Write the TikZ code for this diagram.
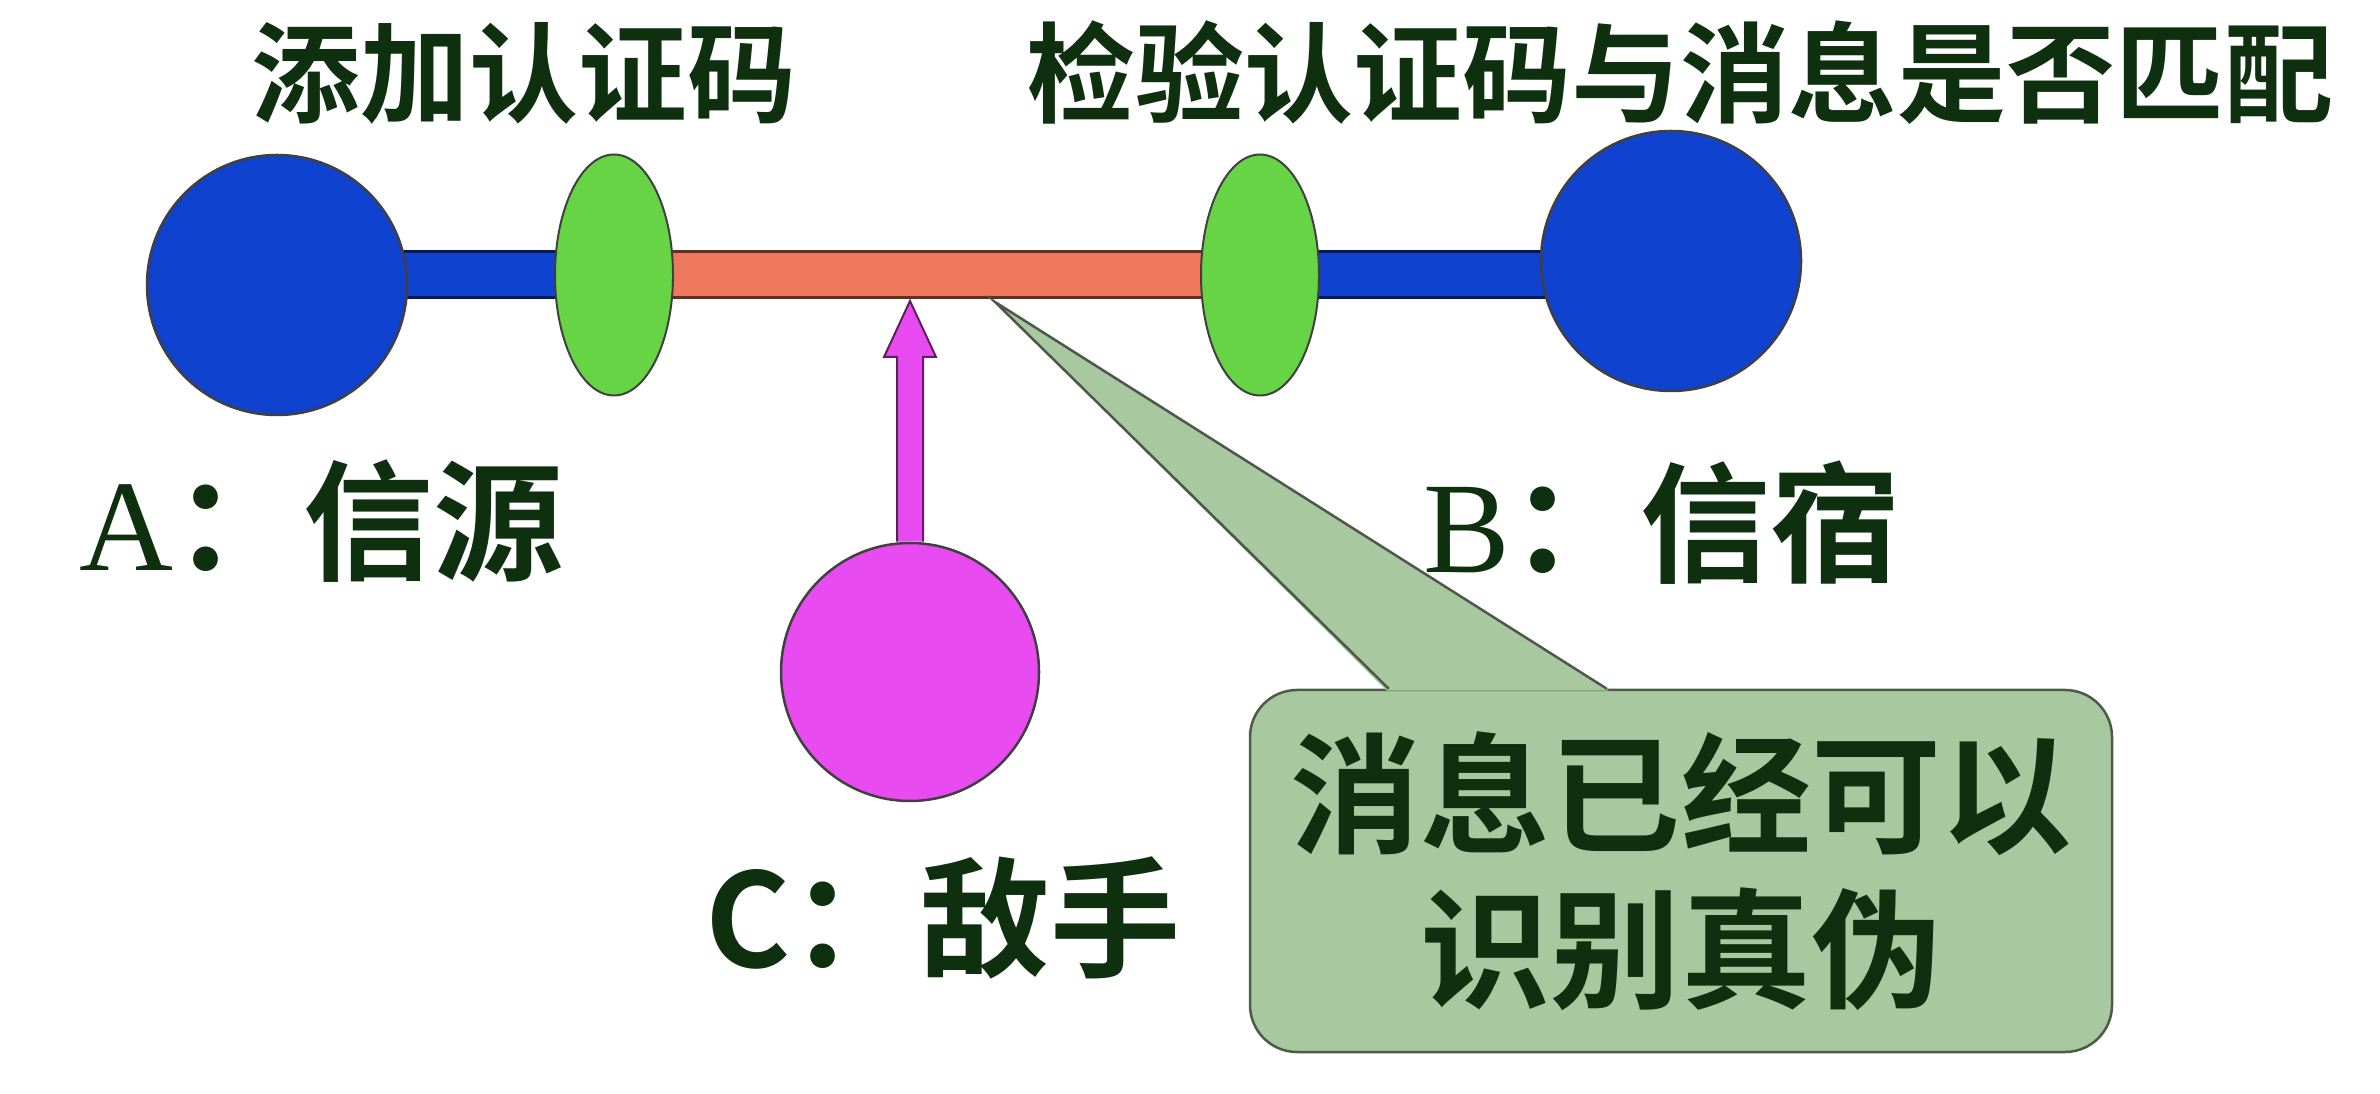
\documentclass[tikz,border=0pt]{standalone}
\usepackage{fontspec}
\newfontfamily\cjk{Noto Sans CJK SC}[BoldFont={Noto Sans CJK SC Bold}]
\newfontfamily\lat{Liberation Serif}
\usetikzlibrary{shapes.geometric,calc,backgrounds}
\definecolor{partyblue}{RGB}{16,66,208}
\definecolor{macgreen}{RGB}{102,212,68}
\definecolor{chanred}{RGB}{238,120,92}
\definecolor{advpink}{RGB}{232,76,240}
\definecolor{notegreen}{RGB}{168,200,160}
\definecolor{inkgreen}{RGB}{14,48,14}
\tikzset{
	party/.style 2 args={circle,draw=black!75,line width=0.25mm,fill=#1,minimum size=#2,inner sep=0pt},
	mac/.style={ellipse,draw=black!75,line width=0.2mm,fill=macgreen,minimum width=11.8mm,minimum height=24.1mm,inner sep=0pt},
	bar/.style={line width=0.3mm,draw=#1!40!black,double=#1,double distance=4.3mm},
	lbl/.style={text=inkgreen,inner sep=0pt,font=\cjk\bfseries\fontsize{#1}{#1}\selectfont},
	advarrow/.style={draw=advpink!40!black,line width=0.2mm,fill=advpink,line join=miter},
	note/.style={rectangle,rounded corners=4.7mm,draw=notegreen!45!black,line width=0.25mm,fill=notegreen,minimum width=86.2mm,minimum height=36.2mm,align=center,text=inkgreen,font=\cjk\bfseries\fontsize{37}{44}\selectfont}
}
\begin{document}
\begin{tikzpicture}[x=0.1mm,y=-0.1mm]
	\useasboundingbox (0,0) rectangle (2380,1094);
	\node [party={partyblue}{26mm}] (srcA) at (277,285) {};
	\node [party={partyblue}{26mm}] (dstB) at (1671,261) {};
	\node [mac] (macL) at (614,275) {};
	\node [mac] (macR) at (1260,275) {};
	\node [party={advpink}{25.8mm}] (adv) at (910,672) {};
	\coordinate (hit) at (910,301);
	\coordinate (tap) at (995,302);

	\begin{scope}[on background layer]
		\draw [bar=partyblue] (macL.center -| srcA.center) -- (macL.center);
		\draw [bar=chanred] (macL.center) -- (macR.center);
		\draw [bar=partyblue] (macR.center) -- (macR.center -| dstB.center);
	\end{scope}

	\draw [advarrow] ($(adv.north)+(-13,0)$) -- ($(hit)+(-13,56)$) -- ($(hit)+(-26,56)$) -- (hit) -- ($(hit)+(26,56)$) -- ($(hit)+(13,56)$) -- ($(adv.north)+(13,0)$);

	\node [lbl=31] (addTag) at (524,73) {添加认证码};
	\node [lbl=31] (chkTag) at (1680,73) {检验认证码与消息是否匹配};
	\node [lbl=37] (nameA) at (322,521) {{\lat\mdseries A}：信源};
	\node [lbl=37] (nameB) at (1662,523) {{\lat\mdseries B}：信宿};
	\node [lbl=37] (nameC) at (943,918) {C：敌手};

	\node [note] (note) at (1681,871) {消息已经可以\\识别真伪};
	\fill [notegreen] ($(note.north west)+(138,2)$) -- (tap) -- ($(note.north west)+(360,2)$) -- cycle;
	\draw [notegreen!45!black,line width=0.25mm] ($(note.north west)+(140,0)$) -- (tap) -- ($(note.north west)+(358,0)$);
\end{tikzpicture}
\end{document}
